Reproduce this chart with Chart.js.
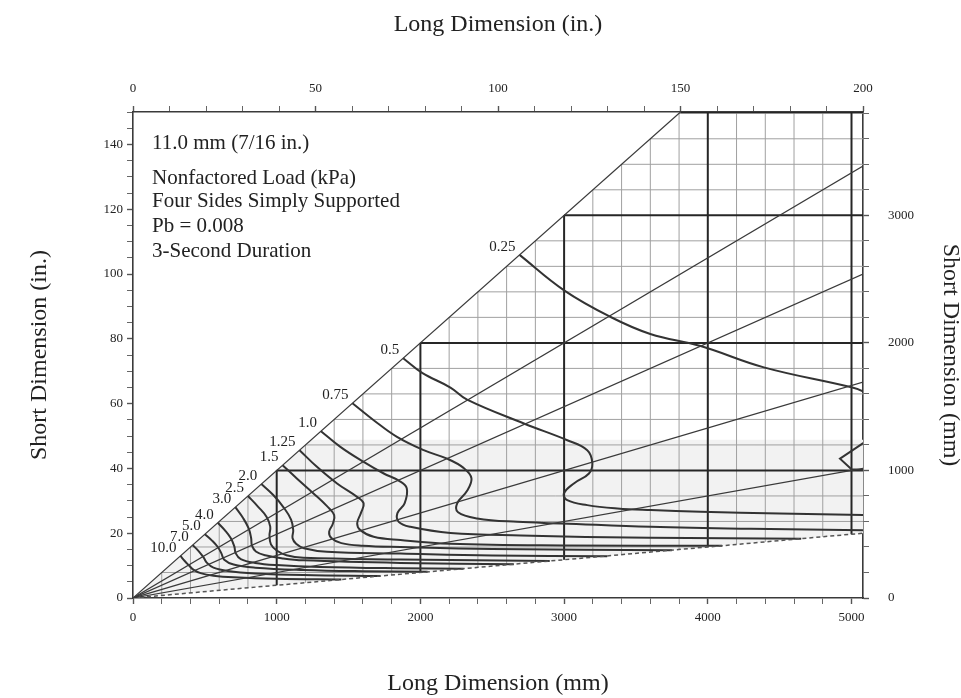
<!DOCTYPE html>
<html><head><meta charset="utf-8">
<script src="https://cdn.jsdelivr.net/npm/chart.js@4.4.1/dist/chart.umd.min.js"></script>
<style>html,body{margin:0;padding:0;background:#fff}#wrap{width:961px;height:698px}</style>
</head><body><div id="wrap"><canvas id="c" width="961" height="698"></canvas></div>
<script>
// ---- axis tick labels ----
const xMmTickLabels = [0, 1000, 2000, 3000, 4000, 5000];
const xInTickLabels = [0, 50, 100, 150, 200];
const yInTickLabels = [0, 20, 40, 60, 80, 100, 120, 140];
const yMmTickLabels = [0, 1000, 2000, 3000];

// ---- aspect ratio lines (long / short) ----
const aspectRatios = [1, 1.5, 2, 3, 5];
const dashedRatio = 10;

// ---- load curve labels (kPa) ----
const loadLabels = ['0.25','0.5','0.75','1.0','1.25','1.5','2.0','2.5','3.0','4.0','5.0','7.0','10.0'];

// ---- load curves: [long mm, short mm] ----
const curve025 = [[2690,2690],[3000,2412],[3324,2203],[3600,2070],[3950,1975],[4390,1808],[5000,1652],[5090,1615],[5230,1520],[5300,1400]];
const curve025Tail = [[5250,1341],[4920,1092],[5000,1010],[5120,1000]];
const curve05 = [[1880,1880],[2012,1765],[2209,1650],[2325,1555],[2720,1368],[3022,1237],[3161,1159],[3196,1060],[3173,976],[3068,898],[2999,820],[3022,767],[3161,728],[3371,702],[3603,689],[3951,676],[4500,662],[5080,650]];
const curve075 = [[1527,1527],[1675,1394],[1837,1263],[2023,1159],[2186,1092],[2300,1020],[2355,940],[2325,840],[2256,742],[2262,672],[2395,624],[2674,597],[2976,585],[3603,558],[4300,542],[5080,532]];
const curve10 = [[1308,1308],[1443,1185],[1605,1067],[1745,976],[1849,920],[1905,860],[1890,742],[1840,665],[1849,597],[1930,558],[2209,510],[2700,490],[3600,472],[4650,465]];
const curve125 = [[1159,1159],[1280,1028],[1420,898],[1559,793],[1605,742],[1585,663],[1560,585],[1582,532],[1675,480],[1861,454],[2209,425],[3000,412],[4100,410]];
const curve15 = [[1041,1041],[1140,937],[1256,820],[1350,720],[1400,650],[1390,580],[1365,520],[1380,470],[1450,430],[1600,410],[1861,400],[2500,385],[3750,375]];
const curve20 = [[893,893],[976,807],[1045,715],[1100,615],[1115,530],[1110,470],[1135,425],[1190,390],[1350,362],[1861,348],[2500,333],[3300,328]];
const curve25 = [[800,800],[871,715],[929,637],[955,560],[950,490],[960,420],[1000,372],[1068,335],[1185,315],[1861,302],[2900,290]];
const curve30 = [[712,712],[767,625],[805,545],[822,470],[828,410],[855,365],[920,335],[1045,310],[1185,295],[1861,275],[2650,265]];
const curve40 = [[590,590],[640,530],[680,470],[705,405],[715,350],[750,305],[850,275],[1000,258],[1300,243],[1861,233],[2300,230]];
const curve50 = [[500,500],[550,450],[590,400],[615,350],[635,300],[700,262],[850,238],[1185,220],[1600,210],[2050,205]];
const curve70 = [[415,415],[455,370],[490,320],[515,275],[560,238],[660,212],[850,193],[1185,180],[1720,172]];
const curve100 = [[330,330],[360,290],[390,255],[420,222],[470,195],[560,175],[700,162],[1000,150],[1450,145]];

const curves = [curve025, curve05, curve075, curve10, curve125, curve15, curve20, curve25, curve30, curve40, curve50, curve70, curve100];

const infoLines = ['11.0 mm (7/16 in.)', 'Nonfactored Load (kPa)', 'Four Sides Simply Supported', 'Pb = 0.008', '3-Second Duration'];

// ---- ranges ----
const xMaxMm = 5080, yMaxMm = 3810, xMaxIn = 200, yMaxIn = 150;
const gridStep = 200, thickStep = 1000, bandTop = 1240;

const SERIF = "'Liberation Serif', 'Times New Roman', serif";
Chart.defaults.font.family = SERIF;
Chart.defaults.color = '#222';

const toXY = a => a.map(p => ({x: p[0], y: p[1]}));
function range(a, b, s) { const r = []; for (let v = a; v <= b + 1e-9; v += s) r.push(v); return r; }

const datasets = [];
aspectRatios.forEach(r => {
  const end = (xMaxMm / r > yMaxMm) ? [yMaxMm * r, yMaxMm] : [xMaxMm, xMaxMm / r];
  datasets.push({data: toXY([[0,0], end]), borderColor: '#3a3a3a', borderWidth: 1.2, tension: 0});
});
datasets.push({data: toXY([[0,0],[xMaxMm, xMaxMm/dashedRatio]]), borderColor: '#555', borderWidth: 1.5, borderDash: [4,3], tension: 0});
curves.forEach(c => datasets.push({data: toXY(c), borderColor: '#333', borderWidth: 2, tension: 0.4}));
datasets.push({data: toXY(curve025Tail), borderColor: '#333', borderWidth: 2, tension: 0});
datasets.forEach(d => { d.showLine = true; d.pointRadius = 0; d.fill = false; d.xAxisID = 'x'; d.yAxisID = 'y'; });

const gridPlugin = {
  id: 'gridPlugin',
  beforeDatasetsDraw(chart) {
    const {ctx, chartArea: a, scales: {x, y}} = chart;
    const X = v => x.getPixelForValue(v), Y = v => y.getPixelForValue(v);
    const seg = (x0, y0, x1, y1) => { ctx.beginPath(); ctx.moveTo(X(x0), Y(y0)); ctx.lineTo(X(x1), Y(y1)); ctx.stroke(); };
    ctx.save();
    ctx.beginPath(); ctx.rect(a.left, a.top, a.right - a.left, a.bottom - a.top); ctx.clip();
    ctx.fillStyle = '#f2f2f2';
    ctx.beginPath(); ctx.moveTo(X(0), Y(0)); ctx.lineTo(X(bandTop), Y(bandTop)); ctx.lineTo(X(xMaxMm), Y(bandTop)); ctx.lineTo(X(xMaxMm), Y(xMaxMm / dashedRatio)); ctx.closePath(); ctx.fill();
    ctx.strokeStyle = '#a0a0a0'; ctx.lineWidth = 1;
    for (let v = gridStep; v < xMaxMm; v += gridStep) {
      if (v % thickStep === 0) continue;
      seg(v, v / dashedRatio, v, Math.min(v, yMaxMm));
    }
    for (let v = gridStep; v <= yMaxMm; v += gridStep) {
      if (v % thickStep === 0) continue;
      seg(v, v, Math.min(v * dashedRatio, xMaxMm), v);
    }
    ctx.strokeStyle = '#262626'; ctx.lineWidth = 2;
    for (let v = thickStep; v < xMaxMm; v += thickStep) seg(v, v / dashedRatio, v, Math.min(v, yMaxMm));
    for (let v = thickStep; v < yMaxMm; v += thickStep) seg(v, v, xMaxMm, v);
    ctx.lineWidth = 2.5;
    seg(yMaxMm, yMaxMm, xMaxMm, yMaxMm);
    ctx.restore();
  },
  afterDatasetsDraw(chart) {
    const {ctx, chartArea: a, scales: {x, y}} = chart;
    ctx.save();
    ctx.fillStyle = '#222';
    ctx.font = '15px ' + SERIF;
    ctx.textAlign = 'right'; ctx.textBaseline = 'middle';
    curves.forEach((c, i) => {
      ctx.fillText(loadLabels[i], x.getPixelForValue(c[0][0]) - 4, y.getPixelForValue(c[0][1]) - 8);
    });
    ctx.font = '21px ' + SERIF;
    ctx.textAlign = 'left';
    const offs = [31, 66, 89, 114, 139];
    infoLines.forEach((t, i) => ctx.fillText(t, a.left + 19, a.top + offs[i]));
    ctx.restore();
  }
};

function axis(pos, min, max, step, labels, title, pad, tpad, fitSize) {
  const horiz = pos === 'top' || pos === 'bottom';
  return {
    type: 'linear', position: pos, min, max,
    afterBuildTicks: s => { s.ticks = range(min, Math.floor(max / step) * step, step).map(v => ({value: v})); },
    afterFit: s => { if (horiz) s.height = fitSize; else s.width = fitSize; },
    ticks: {autoSkip: false, maxRotation: 0, padding: pad, color: '#222', font: {size: 13, family: SERIF},
      callback: v => labels.includes(v) ? String(v) : ''},
    grid: {drawOnChartArea: false, drawTicks: true, tickLength: 6, tickColor: '#555',
      tickWidth: c => (c.tick && labels.includes(c.tick.value)) ? 1.4 : 0.9},
    border: {display: true, color: '#3a3a3a', width: 1.6},
    title: {display: true, text: title, color: '#222', font: {size: 24, family: SERIF, lineHeight: 1}, padding: tpad}
  };
}

new Chart(document.getElementById('c'), {
  type: 'scatter',
  data: {datasets},
  plugins: [gridPlugin],
  options: {
    responsive: false, animation: false, devicePixelRatio: 1,
    layout: {padding: 0},
    elements: {line: {capBezierPoints: false}, point: {radius: 0}},
    plugins: {legend: {display: false}, tooltip: {enabled: false}},
    scales: {
      x: axis('bottom', 0, xMaxMm, 200, xMmTickLabels, 'Long Dimension (mm)', 6, {top: 0, bottom: 2}, 100),
      xin: axis('top', 0, xMaxIn, 10, xInTickLabels, 'Long Dimension (in.)', 10, {top: 13, bottom: 0}, 112),
      yin: axis('left', 0, yMaxIn, 5, yInTickLabels, 'Short Dimension (in.)', 4, {top: 28, bottom: 0}, 133),
      y: axis('right', 0, yMaxMm, 200, yMmTickLabels, 'Short Dimension (mm)', 19, {top: -1, bottom: 0}, 98)
    }
  }
});
</script></body></html>
